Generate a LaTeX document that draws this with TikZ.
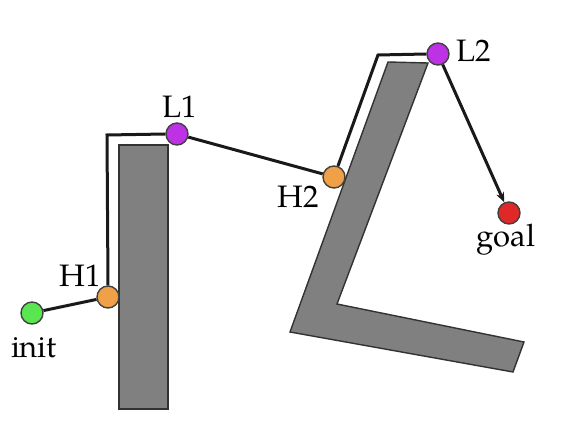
\documentclass[tikz,border=0pt]{standalone}
\usepackage{fontspec}
\setmainfont{TeX Gyre Pagella}[]
\usetikzlibrary{arrows.meta}
\definecolor{obst}{RGB}{128,128,128}
\definecolor{obstline}{RGB}{50,50,50}
\definecolor{cinit}{RGB}{90,230,80}
\definecolor{chigh}{RGB}{240,160,70}
\definecolor{clow}{RGB}{190,50,230}
\definecolor{cgoal}{RGB}{225,40,40}
\tikzset{
  pt/.style={circle, draw=black!75, line width=1.4pt, minimum size=22pt, inner sep=0pt},
  lbl/.style={font=\fontsize{31}{36}\selectfont, inner sep=0pt, anchor=base},
  pathline/.style={line width=3pt, black!90},
  obstacle/.style={fill=obst, draw=obstline, line width=1.4pt, line join=miter}
}
\begin{document}
\begin{tikzpicture}[x=1pt,y=-1pt]
\useasboundingbox (0,0) rectangle (574,430);
\fill[white] (0,0) rectangle (574,430);
% obstacles
\draw[obstacle] (119,145) rectangle (168,409);
\draw[obstacle] (388,62) -- (428,63) -- (337,304) -- (524,342) -- (513,372) -- (290,332) -- cycle;
% waypoints
\node[pt, fill=cinit] (init) at (32,313) {};
\node[pt, fill=chigh] (h1) at (108,297) {};
\node[pt, fill=clow] (l1) at (177,134) {};
\node[pt, fill=chigh] (h2) at (334,177) {};
\node[pt, fill=clow] (l2) at (438,54) {};
\node[pt, fill=cgoal] (goal) at (509,213) {};
\coordinate (c1) at (107,135);
\coordinate (c2) at (378,55);
% path
\draw[pathline] (init) -- (h1);
\draw[pathline] (h1.north) -- (c1) -- (l1.west);
\draw[pathline] (l1) -- (h2);
\draw[pathline] (h2) -- (c2) -- (l2.west);
\draw[pathline, -{Stealth[length=10pt,width=8pt]}] (l2) -- (goal);
% labels
\node[lbl] at (34,358) {init};
\node[lbl] at (80,287) {H1};
\node[lbl] at (180,118) {L1};
\node[lbl] at (298,208) {H2};
\node[lbl] at (474,62) {L2};
\node[lbl] at (506,247) {goal};
\end{tikzpicture}
\end{document}
